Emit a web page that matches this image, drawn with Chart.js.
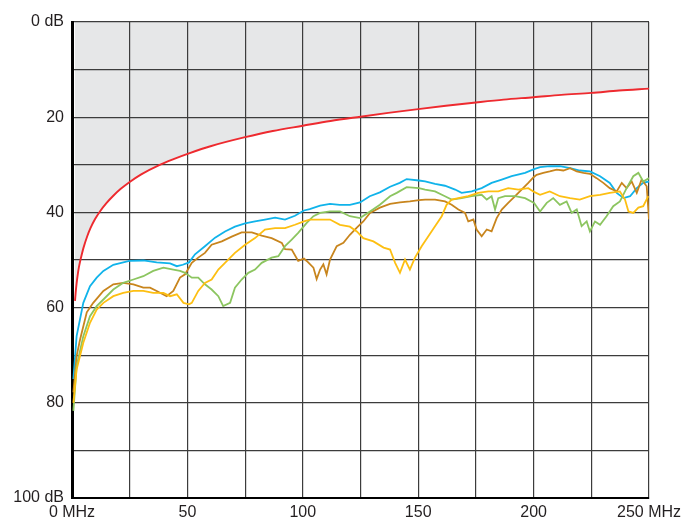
<!DOCTYPE html>
<html>
<head>
<meta charset="utf-8">
<script src="https://cdn.jsdelivr.net/npm/chart.js@4/dist/chart.umd.min.js"></script>
<style>
  html, body { margin: 0; padding: 0; background: #fff; }
  #wrap { width: 699px; height: 522px; }
</style>
</head>
<body>
<div id="wrap"><canvas id="chart" width="699" height="522"></canvas></div>
<script>
// Axis ticks
const freqTicks = [0, 50, 100, 150, 200, 250];
const dbTicks = [0, 20, 40, 60, 80, 100];

// Limit line (red)
const limitFreq = [1.3, 1.6, 2, 2.5, 3, 3.5, 4.2, 5, 6.6, 8, 10, 12.1, 15, 17.9, 21, 25, 30, 38, 44, 50.7, 60, 75, 87, 100, 112, 125, 137, 150, 162, 175, 187, 200, 212, 225, 237, 250];
const limitDb = [58.6, 56.8, 54.9, 53, 51.5, 50.3, 48.9, 47.4, 45, 43.3, 41.4, 39.8, 38, 36.5, 35.1, 33.6, 32, 30, 28.8, 27.6, 26.1, 24.2, 22.9, 21.8, 20.8, 19.9, 19.1, 18.3, 17.6, 16.9, 16.3, 15.8, 15.3, 14.9, 14.4, 14.0];

// Cyan trace
const cyanFreq = [0.6, 2, 4.9, 7.8, 10.7, 13.6, 17.9, 24.8, 30.9, 36.7, 42.5, 45.4, 48, 50.7, 53.3, 57.6, 62, 66.3, 70.6, 75, 79.3, 83.6, 88, 92.3, 96.6, 100.5, 103, 107.5, 111.8, 116, 120.4, 124.8, 129, 133.4, 137.8, 142, 145, 150.3, 153, 157.3, 161.6, 166, 168.8, 173.2, 177.5, 181.8, 186.2, 190.5, 196.3, 200.2, 202.8, 207, 211.4, 215.8, 220, 224.4, 228.8, 233, 236, 239, 241.8, 244.7, 247.5, 250];
const cyanDb = [75, 66, 59, 55.5, 53.7, 52.3, 51, 50.2, 50.1, 50.5, 50.7, 51.3, 51, 50.5, 48.8, 47.1, 45.3, 44, 43, 42.3, 41.9, 41.5, 41.1, 41.5, 40.7, 39.6, 39.3, 38.6, 38.2, 38.4, 38.4, 37.9, 36.6, 35.8, 34.6, 33.8, 33, 33.3, 33.5, 34, 34.4, 35.2, 35.9, 35.6, 34.9, 33.8, 33.1, 32.4, 31.7, 30.9, 30.5, 30.3, 30.3, 30.7, 31.2, 31.4, 32.4, 33.8, 35.9, 37, 36.6, 34.9, 33.8, 33.5];

// Brown trace
const brownFreq = [0.6, 2, 3.5, 6.4, 9.2, 13.6, 17.9, 22.2, 26.6, 30.9, 33.8, 36.7, 41, 43.9, 46.8, 49, 51.9, 54.7, 57.6, 60.5, 64.9, 69.2, 73.5, 77.9, 82.2, 86.5, 90.9, 92.3, 95.2, 98, 100.5, 101.7, 104.6, 106, 107.5, 108.9, 110.3, 111.8, 114.7, 117.6, 120.4, 123.4, 126.2, 129.1, 133.4, 137.8, 142.1, 146.4, 150.3, 153, 157.3, 161.6, 164.5, 167.4, 170.3, 171.7, 173.9, 175.3, 177.5, 179.7, 181.8, 184, 186.2, 189, 192, 194.8, 197.7, 200, 201.3, 204.2, 207, 210, 212.9, 215.8, 218.7, 221.6, 224.4, 227.3, 230.2, 233, 236, 238.2, 240.3, 242.5, 244.7, 246.8, 249, 250];
const brownDb = [77.8, 70.2, 66.7, 61, 59, 56.5, 55.1, 54.8, 55.1, 55.8, 55.8, 56.5, 57.6, 56.5, 53.7, 53, 50.6, 49.5, 48.5, 46.8, 46.1, 45.1, 44.2, 44.2, 44.9, 45.4, 46.4, 47.7, 47.8, 50.2, 49.7, 50.2, 51.6, 54, 52, 50.9, 53, 49.9, 47.1, 46.4, 44.7, 43.2, 41.9, 40.1, 39, 38.2, 37.9, 37.7, 37.4, 37.3, 37.3, 37.7, 38.4, 39.4, 40.1, 41.9, 41.5, 43.6, 45, 43.6, 44, 41.2, 39.4, 38, 36.6, 35.2, 33.8, 32.6, 32.1, 31.7, 31.4, 31, 31.2, 30.7, 31.4, 31.7, 31.9, 32.8, 33.8, 34.9, 35.6, 33.8, 34.9, 33.5, 35.9, 33.1, 34.5, 41.5];

// Green trace
const greenFreq = [0.6, 2, 4.9, 7.8, 10.7, 13.6, 17.9, 22.2, 26.6, 30.9, 35.2, 39.6, 43.9, 46.8, 49, 51.9, 54.7, 57.6, 60.5, 63.4, 65.5, 68.5, 70.6, 73.5, 76.4, 79.3, 82.2, 86.5, 89.4, 92.3, 95.2, 98, 100.5, 101.7, 104.6, 107.5, 111.8, 116.1, 120.4, 124.8, 129.1, 133.4, 137.8, 140.7, 145, 150.3, 153, 157.3, 161.6, 164.5, 168.8, 173.2, 177.5, 179.7, 181.8, 183.3, 184.7, 187.6, 192, 196.3, 200.2, 202.8, 205.7, 208.5, 211.4, 214.3, 216.5, 218.7, 220.8, 223, 224.4, 226.6, 228.8, 231.6, 234.5, 237.4, 240.3, 243.2, 245.4, 247.5, 250];
const greenDb = [81.7, 72.3, 66, 61.8, 59.7, 58.3, 56.2, 54.8, 54.1, 53.4, 52.3, 51.6, 52, 52.3, 52.7, 53.7, 53.7, 55.1, 56.2, 57.6, 59.7, 59, 55.8, 54.1, 52.7, 52, 50.6, 49.5, 49.2, 47.1, 45.7, 44.3, 42.9, 42.2, 40.8, 40.1, 39.8, 39.8, 40.8, 41.2, 39.8, 38.4, 36.6, 35.9, 34.7, 34.9, 35.2, 35.6, 36.6, 37.3, 37, 36.6, 36.3, 37.3, 36.6, 39.4, 37, 36.6, 36.6, 37, 38, 39.8, 38, 37, 38.4, 37.7, 40.1, 39.4, 42.9, 41.9, 44, 41.9, 42.6, 40.8, 38.7, 37.7, 34.9, 32.4, 31.7, 33.5, 32.8];

// Yellow trace
const yellowFreq = [0.6, 2, 4.9, 7.8, 10.7, 13.6, 17.9, 22.2, 26.6, 30.9, 35.2, 39.6, 42.5, 45.4, 48.3, 50.7, 51.9, 54.7, 57.6, 60.5, 63.4, 66.3, 70.6, 75, 79.3, 83.6, 88, 92.3, 96.6, 100.5, 103.1, 107.5, 111.8, 116.1, 120.4, 123.4, 126.2, 130.6, 135, 137.8, 140, 142.1, 144.3, 146.4, 148.6, 151.5, 154.4, 157.3, 160.2, 162.3, 164.5, 167.4, 171.7, 176, 180.4, 184.7, 189, 193.4, 197.7, 200.2, 202.8, 207, 211.4, 215.8, 220, 224.4, 228.8, 233, 237.4, 239.6, 241.1, 243.2, 245.4, 247.5, 249.7];
const yellowDb = [80, 73, 67.4, 63.2, 60.4, 59, 57.6, 56.9, 56.5, 56.5, 56.9, 56.9, 57.6, 57.2, 59, 59.3, 59, 56.5, 54.8, 54.1, 52, 50.6, 48.5, 46.8, 45.4, 43.6, 43.3, 43.3, 42.6, 41.9, 41.5, 41.5, 41.5, 42.6, 43, 44, 45.4, 46.1, 47.4, 47.8, 50.6, 52.7, 49.9, 52, 49.5, 47.1, 45, 42.9, 40.8, 38.4, 37.3, 37, 36.6, 35.9, 35.6, 35.6, 34.9, 35.2, 34.9, 35.7, 36.3, 35.6, 36.6, 37, 37.3, 36.6, 36.3, 35.9, 35.6, 37.3, 39.8, 40.1, 39, 38.7, 36.6];

const toPoints = (xs, ys) => xs.map((x, i) => ({ x: x, y: ys[i] }));

const trace = (label, xs, ys, color) => ({
  label: label,
  data: toPoints(xs, ys),
  borderColor: color,
  borderWidth: 1.8,
  pointRadius: 0,
  tension: 0,
  fill: false,
});

const fontSpec = { family: "'Liberation Sans', Arial, sans-serif", size: 16 };

new Chart(document.getElementById("chart").getContext("2d"), {
  type: "line",
  data: {
    datasets: [
      trace("Yellow", yellowFreq, yellowDb, "#fdbf12"),
      trace("Green", greenFreq, greenDb, "#8cc560"),
      trace("Brown", brownFreq, brownDb, "#c8851d"),
      trace("Cyan", cyanFreq, cyanDb, "#10b3ea"),
      {
        label: "Limit",
        data: toPoints(limitFreq, limitDb),
        borderColor: "#ee2a2f",
        borderWidth: 1.9,
        pointRadius: 0,
        cubicInterpolationMode: "monotone",
        fill: { value: 0 },
        backgroundColor: "#e6e7e8",
      },
    ],
  },
  options: {
    responsive: false,
    animation: false,
    layout: { padding: { top: 22, right: 50, left: 0, bottom: 0 } },
    plugins: {
      legend: { display: false },
      tooltip: { enabled: false },
      filler: { drawTime: "beforeDraw" },
    },
    scales: {
      x: {
        type: "linear",
        min: 0,
        max: 250,
        afterFit: (s) => { s.height = 24; },
        grid: { color: "#3c3c3c", lineWidth: 1.2, drawTicks: false },
        border: { color: "#000", width: 2 },
        ticks: {
          stepSize: 25,
          autoSkip: false,
          maxRotation: 0,
          padding: 5,
          color: "#231f20",
          font: fontSpec,
          callback: (v) => {
            if (!freqTicks.includes(v)) return "";
            return v === 0 || v === 250 ? v + " MHz" : String(v);
          },
        },
      },
      y: {
        type: "linear",
        reverse: true,
        min: 0,
        max: 100,
        afterFit: (s) => { s.width = 72; },
        grid: { color: "#3c3c3c", lineWidth: 1.2, drawTicks: false },
        border: { color: "#000", width: 3 },
        ticks: {
          stepSize: 10,
          autoSkip: false,
          padding: 8,
          color: "#231f20",
          font: fontSpec,
          callback: (v) => {
            if (!dbTicks.includes(v)) return "";
            return v === 0 || v === 100 ? v + " dB" : String(v);
          },
        },
      },
    },
  },
});
</script>
</body>
</html>
